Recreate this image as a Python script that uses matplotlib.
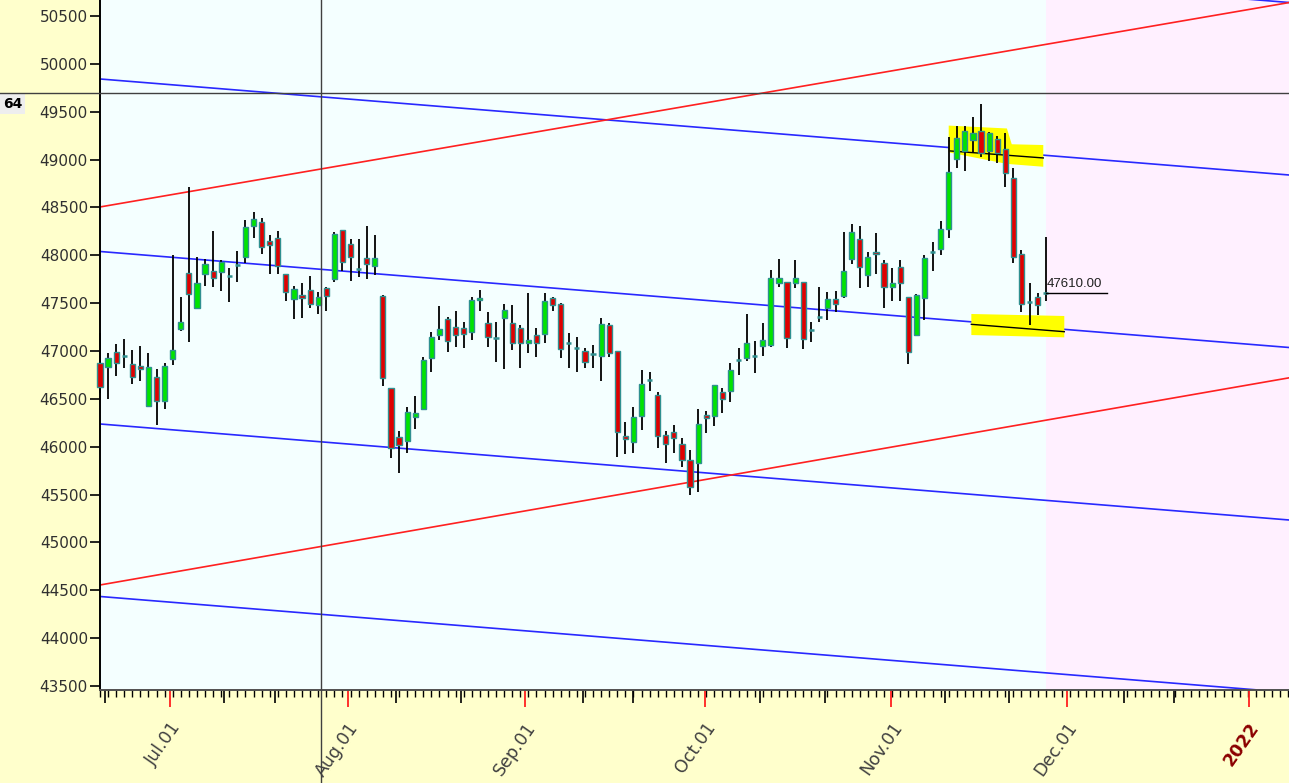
import matplotlib.pyplot as plt
import matplotlib.transforms as mtransforms
from matplotlib.lines import Line2D
from matplotlib.patches import Polygon

# daily candles, one per trading day (index 0 = first bar on the chart)
OPEN = [46878, 46836, 46993, 46945, 46867, 46840, 46426, 46732, 46481, 46913,
        47227, 47818, 47446, 47805, 47836, 47829, 47784, 47900, 47985, 48309,
        48351, 48146, 48184, 47805, 47543, 47582, 47637, 47477, 47658, 47749,
        48261, 48118, 47861, 47975, 47891, 47571, 46617, 46105, 46063, 46314,
        46391, 46927, 47164, 47334, 47254, 47240, 47202, 47530, 47296, 47136,
        47345, 47296, 47244, 47084, 47167, 47178, 47554, 47491, 47084, 47028,
        47003, 46971, 46951, 47269, 47003, 46112, 46053, 46324, 46700, 46540,
        46123, 46157, 46029, 45858, 45827, 46328, 46324, 46575, 46585, 46911,
        46932, 46951, 47055, 47063, 47714, 47724, 47710, 47720, 47220, 47355,
        47449, 47540, 47578, 47959, 48168, 47794, 48037, 47923, 47672, 47881,
        47567, 47167, 47557, 48031, 48063, 48271, 49006, 49093, 49204, 49302,
        49090, 49212, 49107, 48804, 48013, 47515, 47561, 47610]
HIGH = [47191, 46976, 47073, 47129, 47011, 47052, 46976, 46815, 46872, 48000,
        47561, 48710, 47979, 47964, 48254, 47951, 47864, 48048, 48369, 48449,
        48386, 48215, 48254, 47805, 47679, 47707, 47780, 47613, 47666, 48246,
        48261, 48173, 48173, 48303, 48215, 47585, 46617, 46164, 46412, 46530,
        46934, 47196, 47470, 47352, 47418, 47300, 47561, 47637, 47404, 47300,
        47491, 47484, 47272, 47609, 47244, 47609, 47561, 47505, 47185, 47143,
        47035, 47063, 47342, 47289, 47003, 46262, 46412, 46802, 46781, 46572,
        46164, 46227, 46088, 45966, 46391, 46373, 46642, 46610, 46878, 47028,
        47387, 47105, 47289, 47846, 47961, 47724, 47950, 47720, 47300, 47674,
        47617, 47622, 48246, 48330, 48306, 48037, 48230, 47951, 47864, 47951,
        47567, 47596, 48003, 48142, 48358, 49239, 49351, 49351, 49442, 49580,
        49291, 49246, 49281, 48909, 48055, 47707, 47603, 48194]
LOW = [46558, 46495, 46739, 46819, 46655, 46690, 46412, 46224, 46391, 46851,
       47212, 47094, 47436, 47679, 47666, 47630, 47512, 47721, 47916, 48179,
       48010, 47805, 47805, 47526, 47331, 47342, 47446, 47384, 47421, 47718,
       47836, 47735, 47773, 47749, 47791, 46638, 45879, 45722, 45934, 46182,
       46384, 46781, 47118, 46990, 47039, 47028, 47118, 47418, 47042, 46885,
       46809, 47014, 46819, 46979, 46937, 47080, 47421, 46924, 46819, 46778,
       46819, 46819, 46690, 46934, 45896, 45924, 45931, 46175, 46585, 45984,
       45827, 45938, 45791, 45496, 45524, 46140, 46217, 46356, 46464, 46749,
       46901, 46767, 46948, 47037, 47669, 47031, 47660, 47020, 47097, 47303,
       47327, 47411, 47551, 47906, 47655, 47672, 47801, 47446, 47526, 47522,
       46864, 47160, 47324, 47836, 47998, 48177, 48909, 48881, 49066, 49030,
       48988, 48967, 48710, 47916, 47411, 47272, 47376, 47526]
CLOSE = [46627, 46927, 46878, 46945, 46732, 46809, 46836, 46475, 46840, 47007,
         47306, 47596, 47714, 47906, 47760, 47927, 47784, 47900, 48292, 48379,
         48090, 48104, 47891, 47620, 47648, 47554, 47488, 47567, 47571, 48225,
         47933, 47979, 47861, 47909, 47975, 46715, 45984, 46018, 46368, 46356,
         46906, 47150, 47230, 47108, 47164, 47178, 47533, 47557, 47150, 47136,
         47425, 47087, 47087, 47115, 47087, 47519, 47481, 47021, 47084, 47028,
         46888, 46971, 47282, 46982, 46157, 46078, 46314, 46655, 46700, 46115,
         46029, 46094, 45858, 45582, 46238, 46300, 46642, 46499, 46802, 46911,
         47087, 46951, 47115, 47766, 47766, 47139, 47760, 47130, 47220, 47355,
         47540, 47491, 47841, 48246, 47881, 47985, 48013, 47672, 47714, 47714,
         46993, 47585, 47975, 48031, 48278, 48873, 49228, 49298, 49274, 49066,
         49281, 49066, 48863, 47985, 47491, 47515, 47481, 47610]

MONTH_LABELS = ["Jul.01", "Aug.01", "Sep.01", "Oct.01", "Nov.01", "Dec.01", "2022"]

# channel lines: price at the left edge and at the right edge of the chart
BLUE_START = [51644, 49842, 48040, 46238, 44436]
BLUE_END = [50641, 48839, 47037, 45235, 43433]
RED_START = [48505, 44556]
RED_END = [50640, 46720]

LAST_PRICE = 47610.00
CROSS_PRICE = 49695
CROSS_LABEL = "64"   # only the tail of the crosshair price label is visible

# ---- layout ----
W, H, DPI = 1289, 783, 100
XMAX = 147.1
YMIN, YMAX = 43459, 50667
MONTH_POS = [8.66, 30.7, 52.6, 74.8, 97.9, 119.6, 142.1]
LONG_TICKS = [0.6, 15.4, 21.7, 36.6, 44.7, 59.7, 65.9, 81.7, 89.7, 104.6,
              112.5, 126.7, 132.9]
FUTURE_FROM = 117.05
CROSS_X = 27.3

UP, DOWN, EDGE = "#00E400", "#E00000", "#2F9090"

fig = plt.figure(figsize=(W / DPI, H / DPI), dpi=DPI, facecolor="#FFFFCC")
ax = fig.add_axes([100 / W, 93 / H, 1 - 100 / W, 1 - 93 / H])
ax.set_facecolor("#F4FFFF")
ax.set_xlim(0, XMAX)
ax.set_ylim(YMIN, YMAX)

ax.axvspan(FUTURE_FROM, XMAX, color="#FFF0FF", zorder=0, lw=0)

for y0, y1 in zip(BLUE_START, BLUE_END):
    ax.plot([0, XMAX], [y0, y1], color="#2828FF", lw=1.2, zorder=1)
for y0, y1 in zip(RED_START, RED_END):
    ax.plot([0, XMAX], [y0, y1], color="#FF2020", lw=1.2, zorder=1)

# yellow marker highlights
upper = [(105.0, 49355), (112.2, 49325), (112.8, 49160), (116.7, 49152),
         (116.7, 48925), (112.2, 48955), (105.0, 49075)]
lower = [(107.8, 47387), (119.3, 47366), (119.3, 47143), (107.8, 47167)]
for pts in (upper, lower):
    ax.add_patch(Polygon(pts, closed=True, fc="#FFFF00", ec="none", zorder=2))
ax.plot([105.2, 116.7], [49090, 49017], color="black", lw=1, zorder=3)
ax.plot([107.8, 119.3], [47279, 47202], color="black", lw=1, zorder=3)

# candles
idx = list(range(len(CLOSE)))
for i, o, h, l, c in zip(idx, OPEN, HIGH, LOW, CLOSE):
    ax.vlines(i, l, h, color="black", lw=1.3, zorder=4, clip_on=False)
    if o == c:
        ax.hlines(c, i - 0.32, i + 0.32, color=EDGE, lw=1.8, zorder=5, clip_on=False)
    else:
        ax.bar(i, abs(c - o), bottom=min(o, c), width=0.64,
               color=UP if c > o else DOWN, edgecolor=EDGE, lw=1,
               zorder=5, clip_on=False)

# last price marker
ax.plot([idx[-1], 124.6], [LAST_PRICE, LAST_PRICE], color="black", lw=1, zorder=5)
ax.text(idx[-1] + 0.15, LAST_PRICE + 25, f"{LAST_PRICE:.2f}", fontsize=9.5,
        family="Liberation Sans", color="#202020", va="bottom", ha="left", zorder=6)

# axes styling
for side in ("top", "right"):
    ax.spines[side].set_visible(False)
ax.spines["left"].set_color("black")
ax.spines["left"].set_linewidth(1.4)
ax.spines["bottom"].set_color("#505050")
ax.spines["bottom"].set_linewidth(1.4)

ax.set_yticks(range(43500, 50501, 500))
ax.tick_params(axis="y", direction="out", length=7.2, width=1.2, color="black",
               pad=1.5, labelsize=11, labelcolor="#303030")
ax.set_xticks([])

# x ticks drawn by hand: daily, weekly-ish and month marks
xt = ax.get_xaxis_transform()
ax.vlines(range(0, 148), 0, -6.5 / 690, transform=xt, color="black", lw=1, clip_on=False)
ax.vlines(LONG_TICKS, 0, -13 / 690, transform=xt, color="black", lw=1.2, clip_on=False)
ax.vlines(MONTH_POS, 0, -17 / 690, transform=xt, color="#FF2020", lw=1.3, clip_on=False)

label_tr = xt + mtransforms.ScaledTranslation(7 / DPI, -34 / DPI, fig.dpi_scale_trans)
for pos, lab in zip(MONTH_POS, MONTH_LABELS):
    bold = lab == "2022"
    ax.text(pos, 0, lab, transform=label_tr, rotation=55, rotation_mode="anchor",
            ha="right", va="center", fontsize=12.5,
            fontweight="bold" if bold else "normal",
            color="#8B0000" if bold else "#404040", clip_on=False)

# crosshair
hl = Line2D([0, 1], [CROSS_PRICE, CROSS_PRICE], color="#404040", lw=1, zorder=7,
            transform=mtransforms.blended_transform_factory(fig.transFigure, ax.transData))
vl = Line2D([CROSS_X, CROSS_X], [0, 1], color="#404040", lw=1, zorder=7,
            transform=mtransforms.blended_transform_factory(ax.transData, fig.transFigure))
fig.add_artist(hl)
fig.add_artist(vl)
fig.text(3 / W, 1 - 104 / H, CROSS_LABEL, ha="left", va="center", fontsize=10,
         fontweight="bold", color="black",
         bbox=dict(fc="#EEEEEE", ec="none", pad=2.2))

fig.savefig("out.png", dpi=DPI, facecolor=fig.get_facecolor())
